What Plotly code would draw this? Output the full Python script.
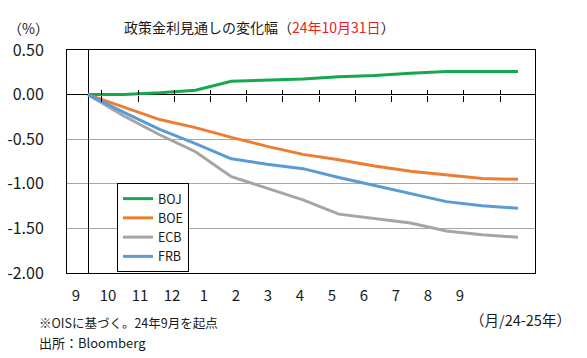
import plotly.graph_objects as go

# ---- data ----
steps = list(range(13))  # 24/9 .. 25/9 monthly steps
month_labels = ["9", "10", "11", "12", "1", "2", "3", "4", "5", "6", "7", "8", "9"]
boj = [0.00, 0.00, 0.02, 0.05, 0.15, 0.16, 0.175, 0.20, 0.215, 0.24, 0.26, 0.26, 0.26]
boe = [0.00, -0.14, -0.28, -0.37, -0.48, -0.58, -0.67, -0.73, -0.80, -0.86, -0.90, -0.94, -0.95]
ecb = [0.00, -0.24, -0.45, -0.64, -0.92, -1.05, -1.18, -1.34, -1.39, -1.44, -1.53, -1.57, -1.60]
frb = [0.00, -0.20, -0.39, -0.55, -0.72, -0.78, -0.83, -0.93, -1.02, -1.11, -1.20, -1.245, -1.275]
y_ticks = [0.5, 0.0, -0.5, -1.0, -1.5, -2.0]
y_ticktext = ["0.50", "0.00", "-0.50", "-1.00", "-1.50", "-2.00"]

series = [("BOJ", boj, "#15A84E"), ("BOE", boe, "#ED7D31"),
          ("ECB", ecb, "#A5A5A5"), ("FRB", frb, "#5B9BD5")]

FONT = "Noto Sans CJK JP"
TXT = "#1a1a1a"

W, H = 587, 358
L, R, T, B = 67, 52, 50, 85
PW, PH = W - L - R, H - T - B


def px(x):
    return (x - L) / PW


def py(y):
    return (H - B - y) / PH


fig = go.Figure()
for name, vals, col in series:
    fig.add_trace(go.Scatter(x=steps, y=vals, mode="lines", name=name,
                             line=dict(color=col, width=3)))

# invisible helper traces so overlay axes render
fig.add_trace(go.Scatter(x=[steps[0]], y=[0], xaxis="x2", mode="markers",
                         marker=dict(opacity=0), showlegend=False, hoverinfo="skip"))
fig.add_trace(go.Scatter(x=[steps[0]], y=[0], xaxis="x3", mode="markers",
                         marker=dict(opacity=0), showlegend=False, hoverinfo="skip"))

xr = [-0.586, 12.474]
fig.update_layout(
    width=W, height=H,
    margin=dict(l=L, r=R, t=T, b=B, autoexpand=False),
    paper_bgcolor="white", plot_bgcolor="white",
    font=dict(family=FONT, color=TXT),
    showlegend=True,
    legend=dict(x=px(117), y=py(183), xanchor="left", yanchor="top",
                bgcolor="white", bordercolor="black", borderwidth=1,
                font=dict(size=12.5, family=FONT, color=TXT),
                tracegroupgap=0, entrywidth=80),
    xaxis=dict(range=xr, anchor="free", position=py(94.6), showgrid=False,
               zeroline=True, zerolinecolor="black", zerolinewidth=1,
               showline=False, ticks="outside", ticklen=6, tickcolor="black",
               tickwidth=1, tick0=0.39, dtick=1.01, showticklabels=False,
               automargin=False),
    xaxis3=dict(range=xr, overlaying="x", anchor="free", position=py(94.6),
                showgrid=False, zeroline=False, showline=False, ticks="inside",
                ticklen=5, tickcolor="black", tickwidth=1, tick0=0.39, dtick=1.01,
                showticklabels=False, automargin=False),
    xaxis2=dict(range=[-0.281, 14.344], overlaying="x", anchor="y", side="bottom",
                showgrid=False, zeroline=False, showline=True, mirror=True,
                linecolor="black", linewidth=1, ticks="",
                tickmode="array", tickvals=steps, ticktext=month_labels,
                tickfont=dict(size=15, family=FONT, color=TXT),
                ticklabelstandoff=9, automargin=False),
    yaxis=dict(range=[-2.0, 0.5], tickmode="array", tickvals=y_ticks,
               ticktext=y_ticktext, showgrid=True, gridcolor="#A6A6A6",
               gridwidth=1, zeroline=True, zerolinecolor="black",
               zerolinewidth=1, showline=True, mirror=True, linecolor="black",
               linewidth=1, ticks="", ticklabelstandoff=19, automargin=False,
               tickfont=dict(size=16, family=FONT, color=TXT)),
)

ann = [
    dict(text="政策金利見通しの変化幅（<span style='color:#E8211E'>24年10月31日</span>）",
         x=px(259), y=py(27), xanchor="center", yanchor="middle", font=dict(size=14)),
    dict(text="（%）", x=px(28), y=py(28), xanchor="center", yanchor="middle",
         font=dict(size=14)),
    dict(text="（月/24-25年）", x=px(468), y=py(319), xanchor="left",
         yanchor="middle", font=dict(size=14.5)),
    dict(text="※OISに基づく。24年9月を起点", x=px(37), y=py(322), xanchor="left",
         yanchor="middle", font=dict(size=12.5)),
    dict(text="出所：Bloomberg", x=px(37), y=py(342), xanchor="left",
         yanchor="middle", font=dict(size=13)),
]
for a in ann:
    a.update(xref="paper", yref="paper", showarrow=False)
    a["font"].update(family=FONT, color=TXT)
    fig.add_annotation(**a)

fig.write_html("out.html", config={"displayModeBar": False},
               post_script="document.body.style.margin='0';document.body.style.padding='0';")
